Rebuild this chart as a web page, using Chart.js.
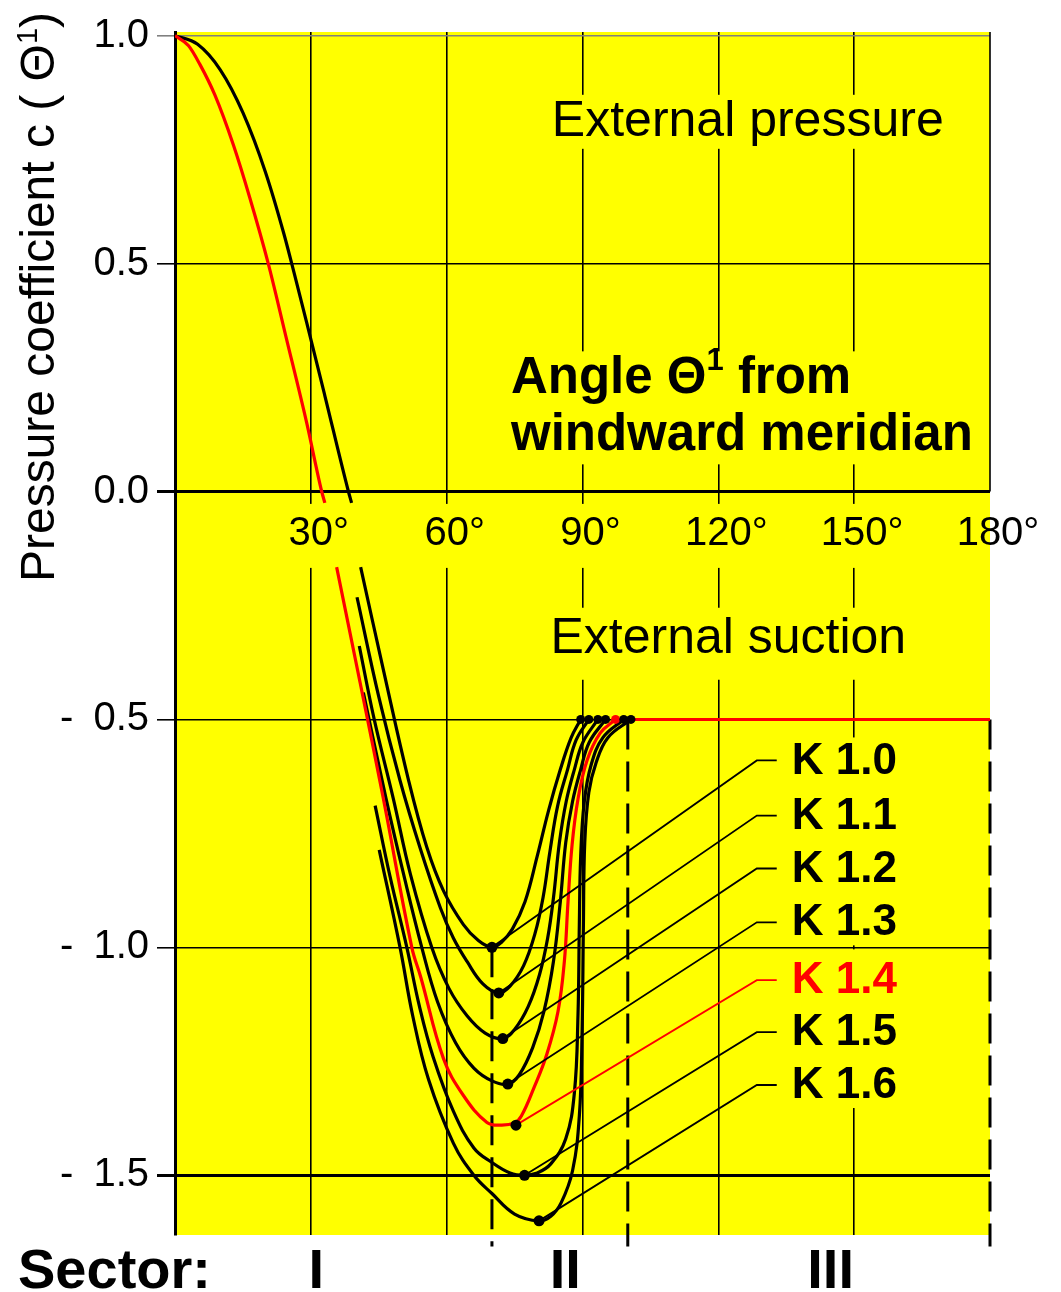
<!DOCTYPE html>
<html>
<head>
<meta charset="utf-8">
<script src="https://cdn.jsdelivr.net/npm/chart.js@4.4.1/dist/chart.umd.min.js"></script>
<style>
  html, body { margin: 0; padding: 0; background: #fff; }
  canvas { display: block; }
</style>
</head>
<body>
<canvas id="Chart" width="1061" height="1292"></canvas>
<script>
const FONT = "'Liberation Sans', Arial, sans-serif"
const YELLOW = '#ffff00'
const RED = '#ff0000'

// axes
const xTickValues = [30, 60, 90, 120, 150, 180]
const xTickLabels = ['30°', '60°', '90°', '120°', '150°', '180°']
const yTickValues = [1.0, 0.5, 0.0, -0.5, -1.0, -1.5]
const yTickLabels = ['1.0', '0.5', '0.0', '-\u20020.5', '-\u20021.0', '-\u20021.5']

// external pressure part (angle in degrees, coefficient)
const upperBlack = [[0, 1.0], [5, 0.981], [10, 0.925], [15, 0.831], [20, 0.7], [24, 0.567],
    [26.6, 0.468], [29.1, 0.37], [33.1, 0.21], [38.3, 0.0], [39.0, -0.025]]
const upperRed = [[0, 1.0], [3, 0.978], [5.5, 0.937], [8.8, 0.87], [12.9, 0.76], [16.5, 0.645],
    [20.6, 0.5], [24.5, 0.34], [29.1, 0.15], [32.4, 0.0], [33.1, -0.025]]

// external suction part, one curve per K value
const kLabels = ['K 1.0', 'K 1.1', 'K 1.2', 'K 1.3', 'K 1.4', 'K 1.5', 'K 1.6']
const curveK10 = [[41.0, -0.166], [46, -0.39], [51.6, -0.634], [55.6, -0.78], [59.3, -0.876], [63.7, -0.95],
    [67, -0.985], [70, -1.0], [72, -0.99], [74.5, -0.96], [77.3, -0.9], [80, -0.8], [82.5, -0.7],
    [85.1, -0.61], [87.5, -0.54], [89.6, -0.5]]
const curveK11 = [[40.2, -0.232], [45, -0.45], [49.7, -0.634], [54.1, -0.781], [58.6, -0.913], [61.5, -0.98],
    [64.5, -1.031], [68, -1.08], [71.5, -1.1], [74, -1.085], [77, -1.04], [79.5, -0.97], [81.3, -0.89],
    [82.8, -0.79], [84.5, -0.69], [86.7, -0.61], [88.6, -0.545], [91.4, -0.5]]
const curveK12 = [[40.7, -0.339], [44, -0.5], [48.2, -0.673], [52, -0.84], [56.7, -1.0], [60.5, -1.09],
    [64.5, -1.15], [68.5, -1.188], [72.4, -1.2], [75, -1.18], [78, -1.13], [80.5, -1.06], [82.3, -0.98],
    [83.6, -0.89], [84.9, -0.77], [86.4, -0.68], [88.2, -0.61], [90.1, -0.55], [93.4, -0.5]]
const curveK13 = [[41.6, -0.441], [46.6, -0.673], [50.5, -0.84], [54.5, -1.0], [58, -1.12], [62, -1.21],
    [66, -1.265], [70, -1.293], [73.5, -1.3], [76, -1.28], [79, -1.22], [81.5, -1.14], [83.6, -1.03],
    [85.1, -0.9], [86.3, -0.77], [87.8, -0.68], [89.6, -0.61], [91.5, -0.55], [95.1, -0.5]]
const curveK14 = [[35.7, -0.166], [40.9, -0.42], [46.0, -0.673], [52.3, -1.0], [54.3, -1.066], [59.3, -1.244],
    [63.7, -1.325], [68.9, -1.384], [72, -1.39], [75, -1.385], [76.5, -1.37], [79.2, -1.31], [82.1, -1.235],
    [84.6, -1.14], [86.0, -1.03], [86.8, -0.9], [87.7, -0.775], [89.0, -0.675], [91.0, -0.59],
    [93.9, -0.53], [97.3, -0.5]]
const plateauK14 = [[97.3, -0.5], [180, -0.5]]
const curveK15 = [[44.2, -0.689], [47.5, -0.845], [51.2, -1.0], [54, -1.13], [57, -1.24], [61.5, -1.36],
    [66, -1.44], [70, -1.472], [74, -1.495], [77.2, -1.5], [80, -1.495], [83, -1.475], [86.3, -1.42],
    [88.2, -1.32], [89.0, -1.15], [89.3, -0.95], [89.6, -0.8], [90.4, -0.68], [91.9, -0.6],
    [94.5, -0.54], [99.1, -0.5]]
const curveK16 = [[45.1, -0.786], [49.7, -1.0], [52.5, -1.15], [56, -1.29], [61.5, -1.43], [66, -1.5],
    [70, -1.54], [75, -1.585], [80.4, -1.6], [83, -1.59], [85.3, -1.56], [87.8, -1.49], [89.3, -1.37],
    [89.9, -1.19], [90.2, -0.95], [90.5, -0.77], [91.4, -0.66], [93.0, -0.595], [95.6, -0.54],
    [100.7, -0.5]]
const kCurves = [curveK10, curveK11, curveK12, curveK13, curveK14, curveK15, curveK16]
const kColors = ['#000', '#000', '#000', '#000', RED, '#000', '#000']

// minimum of each curve and the point where it meets -0.5
const kMinDeg = [70, 71.5, 72.4, 73.5, 75.3, 77.2, 80.4]
const kMinVal = [-1.0, -1.1, -1.2, -1.3, -1.39, -1.5, -1.6]
const kEndDeg = [89.6, 91.4, 93.4, 95.1, 97.3, 99.1, 100.7]
const kEndVal = -0.5

// leader lines from each minimum to its label
const kLeaderVal = [-0.59, -0.711, -0.827, -0.945, -1.072, -1.186, -1.302]
const leaderElbowDeg = 128.5
const leaderEndDeg = 132.9

// sector boundaries and names
const sectorBoundDeg = [70, 100, 180]
const sectorBoundFrom = [-1.0, -0.5, -0.5]
const sectorNames = ['I', 'II', 'III']
const sectorLabelDeg = [31.2, 86.2, 144.8]

function pts(arr) {
    return arr.map(p => ({x: p[0], y: p[1]}))
}

function curve(arr, color, mode) {
    const ds = {
        data: pts(arr),
        borderColor: color,
        borderWidth: 3.2,
        pointRadius: 0,
        fill: false,
        tension: 0.4
    }
    if (mode) ds.cubicInterpolationMode = mode
    return ds
}

const datasets = []
// dots on top
datasets.push({
    data: kMinDeg.map((d, i) => ({x: d, y: kMinVal[i]})),
    showLine: false, pointRadius: 5.5, pointBorderWidth: 0,
    pointBackgroundColor: '#000'
})
datasets.push({
    data: kEndDeg.map(d => ({x: d, y: kEndVal})),
    showLine: false, pointRadius: 4.5, pointBorderWidth: 0,
    pointBackgroundColor: kColors.map(c => c === RED ? RED : '#000')
})
// leaders
kLabels.forEach((l, i) => {
    datasets.push({
        data: [{x: kMinDeg[i], y: kMinVal[i]}, {x: leaderElbowDeg, y: kLeaderVal[i]}, {x: leaderEndDeg, y: kLeaderVal[i]}],
        borderColor: kColors[i], borderWidth: 1.8, pointRadius: 0, tension: 0, fill: false
    })
})
// curves, red one above black ones
datasets.push(curve(curveK14, RED))
datasets.push({data: pts(plateauK14), borderColor: RED, borderWidth: 3, pointRadius: 0, tension: 0})
kCurves.forEach((c, i) => { if (i !== 4) datasets.push(curve(c, '#000')) })
datasets.push(curve(upperRed, RED, 'monotone'))
datasets.push(curve(upperBlack, '#000', 'monotone'))
// sector boundaries
sectorBoundDeg.forEach((d, i) => {
    datasets.push({
        data: [{x: d, y: sectorBoundFrom[i]}, {x: d, y: -1.656}],
        borderColor: '#000', borderWidth: 3, borderDash: [30, 12], pointRadius: 0, tension: 0, clip: 14
    })
})
datasets.push({
    data: [{x: 180, y: 1.008}, {x: 180, y: 0}],
    borderColor: '#000', borderWidth: 1.6, pointRadius: 0, tension: 0, clip: 6
})

function superText(ctx, parts, x, y, size, weight) {
    // parts: [text, isSuper]
    let cx = x
    parts.forEach(p => {
        if (p[1]) {
            ctx.font = weight + ' ' + Math.round(size * 0.6) + 'px ' + FONT
            ctx.fillText(p[0], cx, y - size * 0.36)
        } else {
            ctx.font = weight + ' ' + size + 'px ' + FONT
            ctx.fillText(p[0], cx, y)
        }
        cx += ctx.measureText(p[0]).width
    })
    return cx - x
}

const decor = {
    id: 'decor',
    beforeDraw(chart) {
        const {ctx, chartArea: a} = chart
        ctx.save()
        ctx.fillStyle = YELLOW
        ctx.fillRect(a.left, a.top, a.right - a.left, a.bottom - a.top)
        ctx.restore()
    },
    beforeDatasetsDraw(chart) {
        const {ctx, chartArea: a, scales: {x, y}} = chart
        ctx.save()
        ctx.fillStyle = YELLOW
        // band behind the angle labels
        const by = y.getPixelForValue(-0.093)
        ctx.fillRect(a.left + 2, by - 30, a.right - a.left - 2, 64)
        // external pressure / suction
        ctx.font = '50px ' + FONT
        let w = ctx.measureText('External pressure').width
        let cx = x.getPixelForValue(126.5), cy = y.getPixelForValue(0.811)
        ctx.fillRect(cx - w / 2 - 8, cy - 27, w + 16, 54)
        w = ctx.measureText('External suction').width
        cx = x.getPixelForValue(122.2); cy = y.getPixelForValue(-0.323)
        ctx.fillRect(cx - w / 2 - 8, cy - 31, w + 16, 72)
        // angle title
        ctx.font = 'bold 51px ' + FONT
        w = ctx.measureText('windward meridian').width
        const lx = x.getPixelForValue(74.2)
        ctx.fillRect(lx - 8, y.getPixelForValue(0.246) - 28, w + 16, y.getPixelForValue(0.121) - y.getPixelForValue(0.246) + 56)
        // K label column, keeping the -1.0 grid line
        const kx = x.getPixelForValue(leaderEndDeg) + 8
        const top = y.getPixelForValue(kLeaderVal[0]) - 23
        const bot = y.getPixelForValue(kLeaderVal[6]) + 23
        const g = y.getPixelForValue(-1.0)
        ctx.fillRect(kx, top, 125, g - 2 - top)
        ctx.fillRect(kx, g + 2, 125, bot - g - 2)
        ctx.restore()
    },
    afterDraw(chart) {
        const {ctx, chartArea: a, scales: {x, y}} = chart
        ctx.save()
        ctx.fillStyle = '#000'
        ctx.textBaseline = 'middle'

        // angle tick labels inside the plot
        ctx.font = '40px ' + FONT
        ctx.textAlign = 'center'
        const deg = ctx.measureText('°').width
        xTickValues.forEach((v, i) => {
            ctx.fillText(xTickLabels[i], x.getPixelForValue(v) + deg / 2, y.getPixelForValue(-0.093))
        })

        ctx.font = '50px ' + FONT
        ctx.fillText('External pressure', x.getPixelForValue(126.5), y.getPixelForValue(0.811))
        ctx.fillText('External suction', x.getPixelForValue(122.2), y.getPixelForValue(-0.323))

        ctx.textAlign = 'left'
        const lx = x.getPixelForValue(74.2)
        superText(ctx, [['Angle Θ', false], ['1', true], [' from', false]], lx, y.getPixelForValue(0.246), 51, 'bold')
        superText(ctx, [['windward meridian', false]], lx, y.getPixelForValue(0.121), 51, 'bold')

        // K labels
        ctx.font = 'bold 44px ' + FONT
        kLabels.forEach((l, i) => {
            ctx.fillStyle = kColors[i]
            ctx.fillText(l, x.getPixelForValue(leaderEndDeg) + 15, y.getPixelForValue(kLeaderVal[i]) + 1)
        })

        // sectors
        ctx.fillStyle = '#000'
        ctx.textBaseline = 'alphabetic'
        ctx.font = 'bold 56px ' + FONT
        ctx.fillText('Sector:', 18, a.bottom + 53)
        ctx.textAlign = 'center'
        sectorNames.forEach((s, i) => {
            ctx.fillText(s, x.getPixelForValue(sectorLabelDeg[i]), a.bottom + 53)
        })

        // y axis title
        ctx.translate(54, 297)
        ctx.rotate(-Math.PI / 2)
        ctx.textAlign = 'left'
        const parts = [['Pressure coefficient c ( Θ', false], ['1', true], [')', false]]
        let tw = 0
        parts.forEach(p => {
            ctx.font = (p[1] ? '29px ' : '48px ') + FONT
            tw += ctx.measureText(p[0]).width
        })
        superText(ctx, parts, -tw / 2, 0, 48, 'normal')
        ctx.restore()
    }
}

const ctx = document.getElementById('Chart').getContext('2d')
const myChart = new Chart(ctx, {
    type: 'line',
    data: {datasets: datasets},
    options: {
        responsive: false,
        animation: false,
        devicePixelRatio: 1,
        layout: {padding: {top: 30, right: 71, left: 0, bottom: 0}},
        plugins: {legend: {display: false}, tooltip: {enabled: false}},
        scales: {
            x: {
                type: 'linear', min: 0, max: 180,
                afterBuildTicks: s => { s.ticks = [0].concat(xTickValues).map(v => ({value: v})) },
                ticks: {display: false},
                grid: {
                    color: c => (c.tick && (c.tick.value === 0 || c.tick.value === 180)) ? 'rgba(0,0,0,0)' : '#000',
                    lineWidth: 1.6, drawTicks: false
                },
                border: {display: false},
                afterFit: s => { s.height = 57 }
            },
            y: {
                type: 'linear', min: -1.631, max: 1.008,
                afterBuildTicks: s => { s.ticks = yTickValues.map(v => ({value: v})) },
                ticks: {
                    callback: (v, i) => yTickLabels[i],
                    font: {size: 40, family: FONT},
                    color: '#000',
                    padding: 8
                },
                grid: {
                    color: c => (c.tick && c.tick.value === 1) ? '#808080' : '#000',
                    lineWidth: c => (c.tick && (c.tick.value === 0 || c.tick.value === -1.5)) ? 3 : 1.6,
                    tickLength: 18
                },
                border: {display: true, width: 3, color: '#000'},
                afterFit: s => { s.width = 175 }
            }
        }
    },
    plugins: [decor]
})
</script>
</body>
</html>
